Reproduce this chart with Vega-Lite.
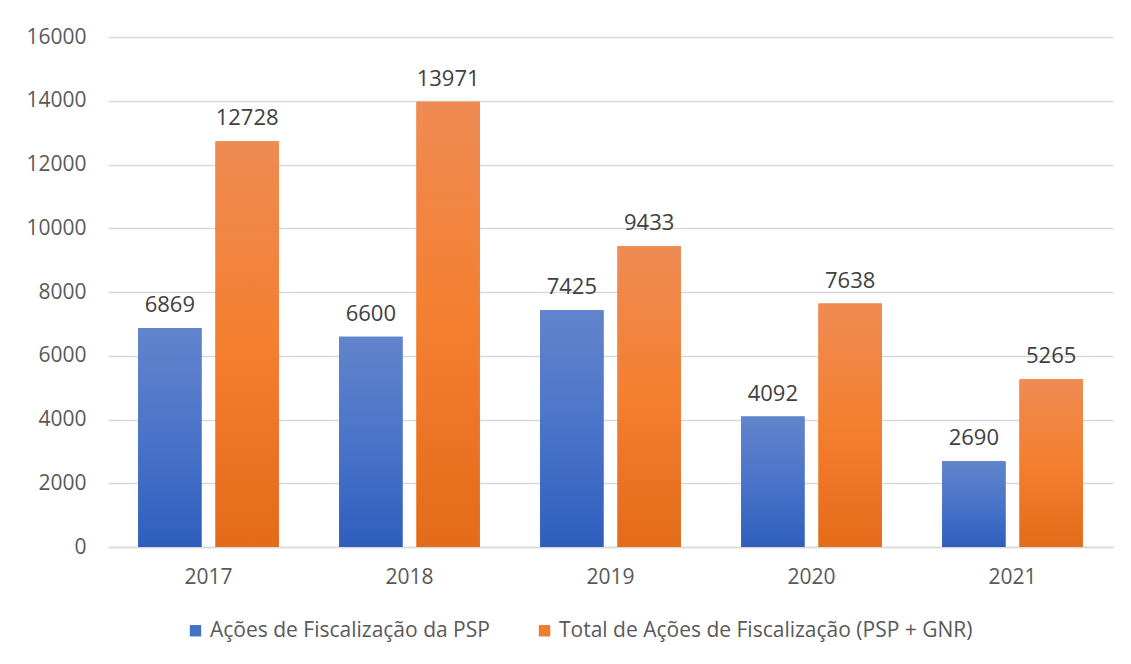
{
  "$schema": "https://vega.github.io/schema/vega-lite/v6.json",
  "width": 1005,
  "height": 510,
  "autosize": {"type": "none"},
  "padding": {"left": 108, "top": 37, "right": 18, "bottom": 117},
  "background": "white",
  "config": {
    "view": {"stroke": null},
    "font": "Open Sans",
    "axis": {"labelFont": "Open Sans", "labelColor": "#595959", "labelFontSize": 21},
    "legend": {"labelFont": "Open Sans", "labelColor": "#595959", "labelFontSize": 21}
  },
  "data": {
    "values": [
      {"year": "2017", "series": "Ações de Fiscalização da PSP", "value": 6869},
      {"year": "2017", "series": "Total de Ações de Fiscalização (PSP + GNR)", "value": 12728},
      {"year": "2018", "series": "Ações de Fiscalização da PSP", "value": 6600},
      {"year": "2018", "series": "Total de Ações de Fiscalização (PSP + GNR)", "value": 13971},
      {"year": "2019", "series": "Ações de Fiscalização da PSP", "value": 7425},
      {"year": "2019", "series": "Total de Ações de Fiscalização (PSP + GNR)", "value": 9433},
      {"year": "2020", "series": "Ações de Fiscalização da PSP", "value": 4092},
      {"year": "2020", "series": "Total de Ações de Fiscalização (PSP + GNR)", "value": 7638},
      {"year": "2021", "series": "Ações de Fiscalização da PSP", "value": 2690},
      {"year": "2021", "series": "Total de Ações de Fiscalização (PSP + GNR)", "value": 5265}
    ]
  },
  "encoding": {
    "x": {
      "field": "year", "type": "nominal", "title": null,
      "scale": {"paddingInner": 0.3, "paddingOuter": 0.15},
      "axis": {"labelAngle": 0, "ticks": false, "domainColor": "#d9d9d9", "domainWidth": 1.5, "labelPadding": 19}
    },
    "xOffset": {"field": "series", "type": "nominal", "scale": {"paddingInner": 0.18, "paddingOuter": 0}},
    "y": {
      "field": "value", "type": "quantitative", "title": null,
      "scale": {"domain": [0, 16000], "nice": false},
      "axis": {"values": [0, 2000, 4000, 6000, 8000, 10000, 12000, 14000, 16000], "ticks": false, "domain": false, "gridColor": "#d9d9d9", "gridWidth": 1.5, "labelPadding": 22, "format": "d"}
    }
  },
  "layer": [
    {
      "mark": {"type": "bar"},
      "encoding": {
        "color": {
          "field": "series", "type": "nominal",
          "scale": {"range": ["#4472c4", "#ed7d31"]},
          "legend": {"title": null, "orient": "none", "direction": "horizontal", "legendX": 77, "legendY": 583, "symbolType": "square", "symbolSize": 130, "symbolStrokeWidth": 0, "columnPadding": 44, "labelOffset": 4, "labelLimit": 600}
        }
      }
    },
    {
      "transform": [{"filter": "datum.series === 'Ações de Fiscalização da PSP'"}],
      "mark": {"type": "bar", "fill": {"gradient": "linear", "x1": 0, "y1": 0, "x2": 0, "y2": 1, "stops": [{"offset": 0, "color": "#6284cc"}, {"offset": 0.5, "color": "#4a74c9"}, {"offset": 1, "color": "#2e5ebd"}]}}
    },
    {
      "transform": [{"filter": "datum.series !== 'Ações de Fiscalização da PSP'"}],
      "mark": {"type": "bar", "fill": {"gradient": "linear", "x1": 0, "y1": 0, "x2": 0, "y2": 1, "stops": [{"offset": 0, "color": "#ef8b53"}, {"offset": 0.5, "color": "#f47f2f"}, {"offset": 1, "color": "#e36b1a"}]}}
    },
    {
      "mark": {"type": "text", "baseline": "alphabetic", "dy": -16, "fontSize": 22, "color": "#404040", "font": "Open Sans"},
      "encoding": {"text": {"field": "value", "type": "quantitative", "format": "d"}}
    }
  ]
}
